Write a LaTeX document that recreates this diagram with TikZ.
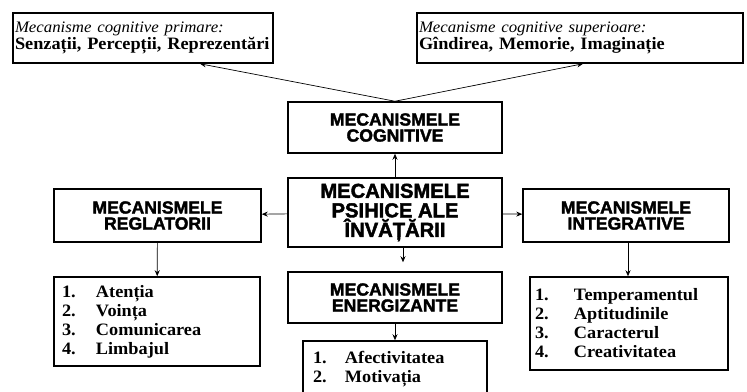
\documentclass[tikz,border=0pt]{standalone}
\usepackage{fontspec}
\setmainfont{Liberation Serif}[FakeStretch=1.05]
\newfontfamily\mecfont{Liberation Sans Bold}[FakeBold=2]
\usetikzlibrary{arrows.meta}

\begin{document}
\begin{tikzpicture}[x=1pt, y=-1pt,
	mecbox/.style={rectangle, draw=black, line width=1.5pt, align=center, inner sep=0pt, font=\mecfont\fontsize{17.6}{16}\selectfont},
	topbox/.style={rectangle, draw=black, line width=1.5pt, minimum height=50pt, align=left, inner xsep=2pt, font=\bfseries\fontsize{17.4}{14}\selectfont},
	listbox/.style={rectangle, draw=black, line width=1.5pt, align=left, font=\bfseries\fontsize{17.4}{19}\selectfont},
	link/.style={-{Stealth[length=6pt, width=5pt]}, line width=0.7pt}]
	\clip (0,0) rectangle (747,391);

	\node[topbox, text width=256pt](cogPrim) at (143,38){{\mdseries\itshape\fontsize{16}{14}\selectfont Mecanisme cognitive primare:}\\Senzații, Percepții, Reprezentări};
	\node[topbox, text width=322pt](cogSup) at (580,38){{\mdseries\itshape\fontsize{16}{14}\selectfont Mecanisme cognitive superioare:}\\Gîndirea, Memorie, Imaginație};

	\node[mecbox, minimum width=214pt, minimum height=51pt](mecCog) at (395,127.5){MECANISMELE\\COGNITIVE};
	\node[mecbox, minimum width=214pt, minimum height=69pt, font=\mecfont\fontsize{20.2}{19.5}\selectfont](mecPsih) at (395,212.5){MECANISMELE\\PSIHICE ALE\\ÎNVĂȚĂRII};
	\node[mecbox, minimum width=207pt, minimum height=53pt](mecReg) at (157.5,215.5){MECANISMELE\\REGLATORII};
	\node[mecbox, minimum width=206pt, minimum height=53pt](mecInt) at (626,215.5){MECANISMELE\\INTEGRATIVE};
	\node[mecbox, minimum width=214pt, minimum height=51pt](mecEn) at (395,297.5){MECANISMELE\\ENERGIZANTE};

	\node[listbox, inner xsep=8pt, text width=190pt, minimum height=89pt](listReg) at (157,321.5){\makebox[34pt][l]{1.}Atenția\\\makebox[34pt][l]{2.}Voința\\\makebox[34pt][l]{3.}Comunicarea\\\makebox[34pt][l]{4.}Limbajul};
	\node[listbox, inner xsep=5pt, text width=188pt, minimum height=93pt](listInt) at (629,323.5){\makebox[39pt][l]{1.}Temperamentul\\\makebox[39pt][l]{2.}Aptitudinile\\\makebox[39pt][l]{3.}Caracterul\\\makebox[39pt][l]{4.}Creativitatea};
	\node[listbox, inner xsep=10pt, text width=164pt, minimum height=56pt](listEn) at (395,369){\makebox[32pt][l]{1.}Afectivitatea\\\makebox[32pt][l]{2.}Motivația};

	\draw[link](mecCog.north) -- ([xshift=57pt]cogPrim.south);
	\draw[link](mecCog.north) -- ([xshift=3pt]cogSup.south);
	\draw[link](mecPsih) -- (mecCog);
	\draw[link](mecPsih) -- (mecReg);
	\draw[link](mecPsih) -- (mecInt);
	\draw[link, shorten >=9pt]([xshift=8pt]mecPsih.south) -- ([xshift=8pt]mecEn.north);
	\draw[link](mecReg) -- (listReg);
	\draw[link]([xshift=2pt]mecInt.south) -- ([xshift=-1pt]listInt.north);
	\draw[link](mecEn) -- (listEn);

\end{tikzpicture}
\end{document}
